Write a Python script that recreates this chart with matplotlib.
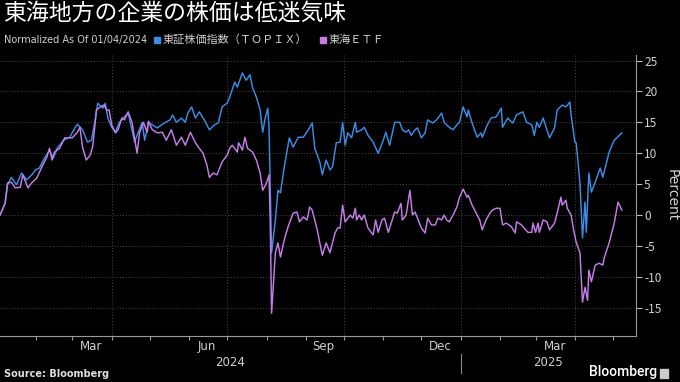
import numpy as np
import matplotlib
matplotlib.use('Agg')
import matplotlib.pyplot as plt
import matplotlib.dates as mdates
import matplotlib.transforms as mtransforms
from matplotlib.patches import Rectangle

plt.rcParams['font.family'] = ['Noto Sans CJK JP', 'DejaVu Sans']

# days since 2024-01-04, percent change
start = np.datetime64('2024-01-04')

topix_days = [0, 4, 6, 9, 13, 17, 21, 25, 28, 31, 35, 39, 42, 45, 50, 55, 59, 61, 65, 69,
              72, 75, 77, 81, 83, 85, 88, 91, 94, 98, 101, 104, 106, 109, 112, 114, 117, 120,
              124, 128, 134, 136, 139, 143, 146, 148, 151, 154, 157, 161, 165, 169, 172, 175,
              179, 181, 185, 187, 191, 194, 197, 199, 202, 205, 207, 209, 211, 212, 213, 214,
              217, 219, 221, 224, 228, 231, 235, 239, 243, 246, 248, 252, 254, 257, 260, 262,
              265, 268, 270, 272, 274, 277, 280, 281, 285, 287, 290, 294, 298, 302, 304, 307,
              311, 315, 317, 320, 322, 324, 327, 329, 332, 335, 337, 341, 344, 348, 350, 354,
              357, 360, 362, 365, 368, 369, 372, 376, 379, 380, 384, 387, 391, 395, 396, 400,
              404, 407, 412, 415, 419, 421, 423, 425, 428, 431, 433, 437, 439, 443, 446, 449,
              450, 453, 454, 457, 459, 461, 462, 464, 466, 469, 471, 473, 475, 478, 480, 484, 490]
topix_pct = [0, 1.9, 4.9, 6.1, 4.9, 6.8, 5.7, 6.5, 7.3, 7.6, 9.2, 10.5, 9.2, 10.8, 12.1, 12.6,
             14.1, 14.7, 13.8, 11.8, 12.1, 15.4, 18.1, 17.3, 18.1, 15.7, 14.2, 13.4, 15.0, 15.9,
             16.5, 13.8, 11.8, 13.4, 15.0, 12.1, 15.0, 14.6, 14.1, 14.7, 15.4, 16.2, 15.0, 15.7,
             15.0, 16.5, 17.5, 15.7, 16.7, 15.4, 13.8, 14.6, 14.9, 17.5, 18.1, 19.1, 21.5, 20.7,
             23.0, 21.8, 22.7, 20.6, 19.1, 17.0, 13.4, 15.7, 17.3, 14.2, 3.6, -6.1, -0.8, 4.0,
             3.6, 7.8, 12.5, 11.0, 12.6, 12.6, 13.8, 14.9, 10.8, 8.6, 6.5, 8.9, 7.3, 7.8, 11.7,
             11.8, 15.0, 11.3, 13.3, 12.5, 15.0, 13.4, 13.8, 14.2, 12.9, 11.8, 10.0, 12.1, 13.4,
             11.3, 15.0, 15.0, 13.8, 13.4, 13.8, 12.9, 13.8, 14.1, 12.5, 13.3, 15.4, 14.9, 15.4,
             16.5, 15.0, 14.2, 13.8, 14.6, 15.0, 17.5, 15.9, 17.0, 14.9, 12.6, 13.3, 12.6, 14.6,
             15.7, 15.9, 17.3, 14.2, 15.7, 14.9, 16.2, 16.7, 15.0, 14.6, 12.9, 15.0, 14.2, 15.7,
             13.8, 12.5, 14.1, 17.0, 17.8, 17.5, 18.3, 16.2, 11.8, 11.7, 5.2, -3.7, 2.1, -2.8,
             6.8, 3.7, 5.3, 6.5, 7.6, 6.1, 8.6, 10.2, 12.1, 13.3]

etf_days = [0, 4, 6, 9, 12, 16, 18, 22, 25, 29, 33, 37, 39, 41, 43, 47, 51, 57, 61, 63, 65,
            68, 71, 73, 76, 79, 82, 84, 86, 88, 91, 93, 96, 98, 101, 104, 108, 110, 113, 116,
            117, 120, 124, 128, 131, 135, 139, 143, 146, 150, 154, 157, 160, 163, 165, 168,
            171, 175, 179, 181, 183, 187, 188, 191, 193, 195, 199, 202, 205, 207, 210, 212,
            213, 214, 217, 219, 221, 224, 227, 231, 234, 236, 239, 242, 244, 246, 250, 252,
            254, 257, 260, 264, 266, 268, 270, 272, 276, 278, 280, 281, 283, 285, 287, 290,
            294, 296, 298, 301, 303, 306, 309, 311, 313, 316, 317, 320, 323, 325, 327, 329,
            332, 335, 337, 340, 343, 345, 348, 350, 352, 354, 357, 360, 362, 365, 368, 369,
            372, 376, 378, 380, 383, 386, 388, 391, 394, 396, 399, 403, 406, 407, 411, 413,
            416, 419, 420, 422, 424, 425, 428, 431, 433, 437, 439, 442, 443, 446, 447, 450,
            452, 454, 457, 458, 459, 461, 463, 464, 466, 469, 472, 475, 476, 480, 484, 487, 490]
etf_pct = [0, 1.9, 5.2, 5.3, 4.4, 4.5, 6.5, 4.4, 5.2, 6.0, 7.8, 9.4, 10.8, 8.9, 10.2, 10.8,
           12.5, 12.5, 13.4, 14.2, 11.0, 8.9, 9.7, 11.0, 17.0, 17.5, 17.8, 17.0, 17.0, 14.6,
           13.3, 13.8, 15.7, 15.4, 16.7, 15.0, 10.0, 13.3, 15.0, 13.4, 15.2, 13.8, 13.3, 13.4,
           12.1, 13.8, 11.3, 12.6, 11.3, 13.4, 11.7, 10.8, 10.0, 8.1, 6.1, 6.8, 6.5, 8.6, 9.7,
           10.8, 11.3, 10.2, 11.7, 10.5, 12.6, 10.8, 10.2, 8.9, 6.8, 4.0, 5.2, 6.5, -1.9, -15.9,
           -6.1, -4.5, -6.8, -4.0, -1.9, 0.3, 0.5, -1.1, -0.3, -0.8, 1.3, 0.8, -2.4, -4.5, -6.5,
           -4.5, -6.1, -2.9, -2.1, -2.1, 1.6, -1.1, 0.0, -0.5, 1.1, -0.8, 0.0, -0.8, 0.0, -2.1,
           -3.2, -0.8, -2.8, -0.8, -0.5, -2.8, -0.8, 0.5, 0.3, 1.9, -0.8, 0.0, 4.0, 0.0, 0.5,
           -0.5, -2.1, -2.9, -0.5, -1.6, -1.6, -0.5, -0.8, 0.0, -0.8, -1.1, 0.0, 1.3, 2.8, 4.2,
           2.9, 3.2, 1.6, 0.0, -0.8, -2.4, -0.8, 0.3, 0.8, 1.1, 1.1, -1.6, -1.3, -1.9, -2.9,
           -1.1, -1.6, -2.1, -2.8, -2.8, -1.3, -2.8, -1.3, -2.8, -0.8, -1.1, -2.4, -1.3, 0.3,
           2.9, 1.6, 2.4, 1.1, 0.0, -2.4, -4.4, -6.1, -10.0, -14.1, -11.7, -13.8, -8.9, -10.8,
           -8.1, -7.8, -8.1, -7.0, -4.5, -1.3, 2.1, 0.8]

month_labels = ['Mar', 'Jun', 'Sep', 'Dec', 'Mar']
month_label_dates = ['2024-03-16', '2024-06-15', '2024-09-15', '2024-12-16', '2025-03-16']
quarter_dates = ['2024-04-01', '2024-07-01', '2024-10-01', '2025-01-01', '2025-04-01']
year_labels = ['2024', '2025']
year_label_dates = ['2024-07-03', '2025-03-11']
yticks = [-15, -10, -5, 0, 5, 10, 15, 20, 25]

blue = '#3a8ee6'
purple = '#c67de9'
grid_c = '#4a4a4a'
txt_c = '#d0d0d0'

topix_x = start + np.array(topix_days).astype('timedelta64[D]')
etf_x = start + np.array(etf_days).astype('timedelta64[D]')

fig = plt.figure(figsize=(6.8, 3.82), dpi=100, facecolor='black')
ax = fig.add_axes([0.0, 0.12, 0.935, 0.736], facecolor='black')

ax.plot(topix_x, topix_pct, color=blue, lw=1.05, zorder=3)
ax.plot(etf_x, etf_pct, color=purple, lw=1.05, zorder=3)

ax.set_xlim(start, np.datetime64('2025-05-19'))
ax.set_ylim(-19.6, 25.9)

# y axis on the right
ax.yaxis.tick_right()
ax.set_yticks(yticks)
ax.set_yticklabels([str(v) for v in yticks])
ax.tick_params(axis='y', colors='#bbbbbb', labelcolor=txt_c, labelsize=8.5,
               length=4, width=0.8, pad=2)
ax.yaxis.set_label_position('right')
ax.set_ylabel('Percent', color=txt_c, fontsize=10, rotation=270, labelpad=12,
              family='DejaVu Sans')

# x axis: quarter grid lines, monthly ticks
ax.set_xticks(np.array(quarter_dates, dtype='datetime64[D]'))
ax.set_xticklabels([])
ax.xaxis.set_minor_locator(mdates.MonthLocator())
ax.tick_params(axis='x', which='both', colors='#999999', length=3, width=0.8)

ax.grid(True, which='major', color=grid_c, ls=(0, (1, 2)), lw=0.7)

for s in ['top', 'left']:
    ax.spines[s].set_visible(False)
ax.spines['bottom'].set_color('#999999')
ax.spines['right'].set_color('#999999')

trans = mtransforms.blended_transform_factory(ax.transData, ax.transAxes)
for lab, d in zip(month_labels, month_label_dates):
    ax.text(np.datetime64(d), -0.035, lab, transform=trans, ha='center', va='center',
            color=txt_c, fontsize=8.5, family='DejaVu Sans')
for lab, d in zip(year_labels, year_label_dates):
    ax.text(np.datetime64(d), -0.095, lab, transform=trans, ha='center', va='center',
            color=txt_c, fontsize=8.5, family='DejaVu Sans')
ax.plot([np.datetime64('2025-01-01')] * 2, [-0.065, -0.13], transform=trans,
        color='#888888', lw=0.8, clip_on=False)

# title and legend row
fig.text(0.004, 0.995, '東海地方の企業の株価は低迷気味', color='white', fontsize=16.5,
         ha='left', va='top')
fig.text(0.006, 0.895, 'Normalized As Of 01/04/2024', color=txt_c, fontsize=7,
         ha='left', va='center', family='DejaVu Sans')
fig.patches.append(Rectangle((154 / 680, 1 - 43 / 382), 6 / 680, 6 / 382,
                             transform=fig.transFigure, color=blue))
fig.text(163 / 680, 0.895, '東証株価指数（ＴＯＰＩＸ）', color=txt_c, fontsize=8,
         ha='left', va='center')
fig.patches.append(Rectangle((320 / 680, 1 - 43 / 382), 6 / 680, 6 / 382,
                             transform=fig.transFigure, color=purple))
fig.text(329 / 680, 0.895, '東海ＥＴＦ', color=txt_c, fontsize=8,
         ha='left', va='center')

# footer
fig.text(0.006, 0.022, 'Source: Bloomberg', color='#e0e0e0', fontsize=7,
         fontweight='bold', ha='left', va='center', family='DejaVu Sans')
fig.text(0.967, 0.025, 'Bloomberg', color='white', fontsize=10, ha='right',
         va='center', family='Roboto', fontweight='medium')
fig.patches.append(Rectangle((660 / 680, 1 - 378 / 382), 8 / 680, 9 / 382,
                             transform=fig.transFigure, color='#cccccc'))

fig.savefig('out.png', dpi=100, facecolor='black')
